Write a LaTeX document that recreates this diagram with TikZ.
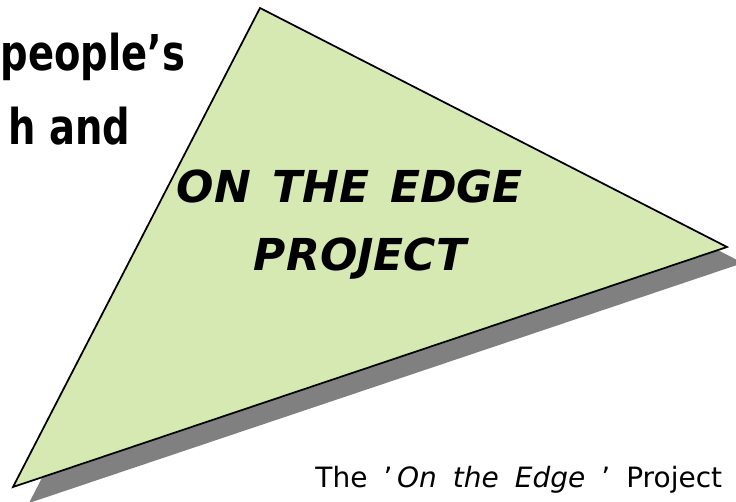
\documentclass[tikz,border=0pt]{standalone}
\usepackage{fontspec}
\setmainfont{DejaVu Sans}
\newfontfamily\headfont[FakeStretch=0.78]{DejaVu Sans}
\newfontfamily\footfont[WordSpace=1.8]{DejaVu Sans}
\definecolor{edgegreen}{HTML}{D7E9B3}
\definecolor{edgeshadow}{HTML}{808080}
\newcommand{\wsp}{\hspace{0.48em}}

\begin{document}
\begin{tikzpicture}[x=0.75pt, y=-0.75pt, line width=1.3pt, line join=miter]
  \useasboundingbox (0,0) rectangle (736,502);
  \clip (0,0) rectangle (736,502);
  % triangle corners
  \coordinate (top) at (260,8);
  \coordinate (right) at (727,247);
  \coordinate (left) at (13,487);
  % shadow, then the triangle on top
  \fill[edgeshadow] ([shift={(16,16)}]top) -- ([shift={(16,16)}]right)
    -- ([shift={(16,16)}]left) -- cycle;
  \draw[fill=edgegreen] (top) -- (right) -- (left) -- cycle;
  % cut-off heading on the left
  \node[anchor=base east, inner sep=0pt, font=\headfont\fontsize{37}{44}\selectfont\bfseries] (people) at (186,71) {people’s};
  \node[anchor=base east, inner sep=0pt, font=\headfont\fontsize{37}{44}\selectfont\bfseries] (healthand) at (131,145) {h and};
  % title inside the triangle
  \node[anchor=base, inner sep=0pt, font=\fontsize{33}{40}\selectfont\bfseries\itshape] (title) at (350,203) {ON\wsp THE\wsp EDGE};
  \node[anchor=base, inner sep=0pt, font=\fontsize{33}{40}\selectfont\bfseries\itshape] (project) at (360,271) {PROJECT};
  % footer
  \node[anchor=base east, inner sep=0pt, font=\footfont\fontsize{21}{25}\selectfont] (footer) at (723,487) {The ’\,\textit{On the Edge} ’ Project};
\end{tikzpicture}
\end{document}
